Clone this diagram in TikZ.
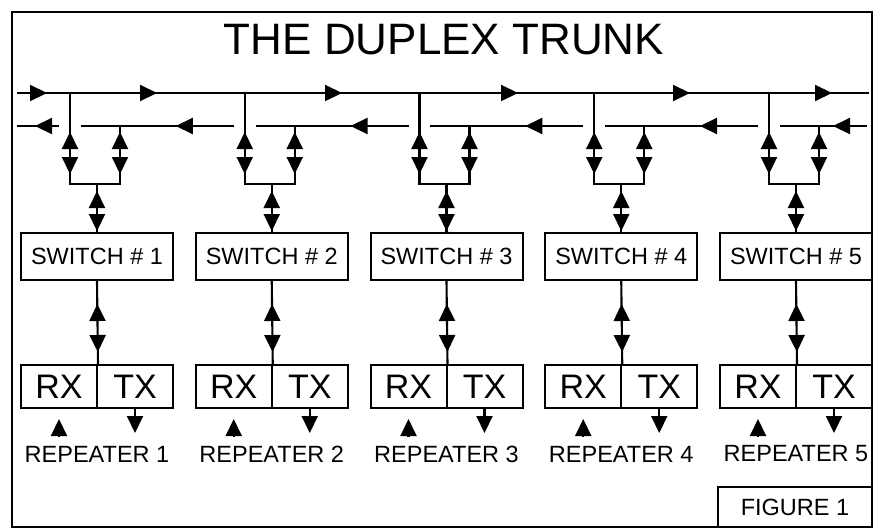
\documentclass[tikz,border=0pt]{standalone}
\usepackage{fontspec}
\setmainfont{Liberation Sans}
\usetikzlibrary{arrows.meta,decorations.markings,positioning}

\begin{document}
\begin{tikzpicture}[x=1pt, y=-1pt,
  >={Triangle[length=17pt, width=16pt]},
  wire/.style={line width=2.1pt, line cap=rect},
  twoway/.style 2 args={wire, postaction={decorate},
    decoration={markings,
      mark=at position #1 with {\arrowreversed{>}},
      mark=at position #2 with {\arrow{>}}}},
  westseg/.style={wire, postaction={decorate},
    decoration={markings, mark=at position #1pt with {\arrow{>}}}},
  eastbus/.style={wire, postaction={decorate},
    decoration={markings,
      mark=at position 29pt with {\arrow{>}},
      mark=at position 139pt with {\arrow{>}},
      mark=at position 324pt with {\arrow{>}},
      mark=at position 500pt with {\arrow{>}},
      mark=at position 672pt with {\arrow{>}},
      mark=at position 814pt with {\arrow{>}}}},
  switchbox/.style={draw, line width=2pt, minimum width=152pt,
    minimum height=47pt, inner sep=0pt, font=\fontsize{23.5}{23.5}\selectfont},
  halfbox/.style={draw, line width=2pt, minimum width=76pt,
    minimum height=43pt, inner sep=0pt, font=\fontsize{34}{34}\selectfont},
  reptext/.style={font=\fontsize{23.5}{23.5}\selectfont},
  figbox/.style={draw, line width=2pt, minimum width=154pt,
    minimum height=40pt, inner sep=0pt, font=\fontsize{23.5}{23.5}\selectfont}]

\useasboundingbox (0,0) rectangle (881,528);
\draw[line width=2.2pt] (12,12) rectangle (872,527);

\node[font=\fontsize{44}{44}\selectfont] (title) at (444,40) {THE DUPLEX TRUNK};

% trunk ends
\coordinate (eW) at (18,93);
\coordinate (eE) at (868,93);
\coordinate (wW) at (18,126);
\coordinate (wE) at (866,126);
\draw[eastbus] (eW) -- (eE);

\foreach \i/\cx in {1/97, 2/271.75, 3/446.5, 4/621.25, 5/796} {
  \coordinate (tapE\i) at (\cx-27,93);
  \coordinate (tapW\i) at (\cx+23,126);
  \coordinate (gapL\i) at (\cx-39,126);
  \coordinate (gapR\i) at (\cx-15,126);
  \coordinate (jl\i) at (\cx-27,184);
  \coordinate (jr\i) at (\cx+23,184);
  \coordinate (join\i) at (\cx,184);

  \node[switchbox] (sw\i) at (\cx,256.5) {SWITCH \# \i};
  \node[halfbox] (rx\i) at (\cx-38,386.5) {RX};
  \node[halfbox] (tx\i) at (\cx+38,386.5) {TX};
  \node[reptext] (rep\i) at (\cx,454) {REPEATER \i};

  \coordinate[below=10pt of rx\i] (rxtip\i);
  \coordinate[below=15pt of rxtip\i] (rxfoot\i);
  \coordinate[below=24pt of tx\i] (txtip\i);

  \draw[twoway={-52pt}{-10pt}] (tapE\i) -- (jl\i);
  \draw[twoway={-52pt}{-10pt}] (tapW\i) -- (jr\i);
  \draw[wire] (jl\i) -- (jr\i);
  \draw[twoway={-41pt}{-1pt}] (join\i) -- (sw\i.north);
  \draw[twoway={-60pt}{-12pt}] (sw\i.south) -- (rx\i.north east);
  \draw[wire, ->] (rxfoot\i) -- (rxtip\i);
  \draw[wire, ->] (tx\i) -- (txtip\i);
}

\foreach \a/\b/\p in {gapL1/wW/23, gapL2/gapR1/57, gapL3/gapR2/57,
                      gapL4/gapR3/57, gapL5/gapR4/57, wE/gapR5/33} {
  \draw[westseg=\p] (\a) -- (\b);
}

\node[figbox] (fig) at (795,507) {FIGURE 1};

\end{tikzpicture}
\end{document}
